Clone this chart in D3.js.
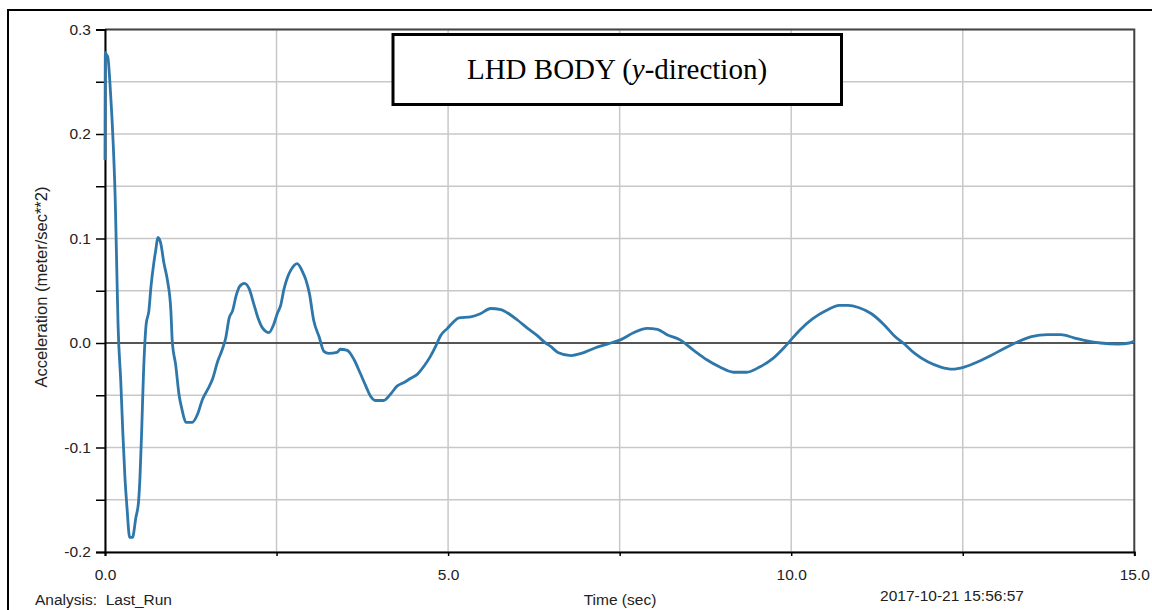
<!DOCTYPE html>
<html><head><meta charset="utf-8">
<script src="https://cdn.jsdelivr.net/npm/d3@7"></script>
<style>body{margin:0;background:#fff;}svg{display:block;}</style>
</head><body><div id="chart"></div>
<script>
// Time (sec)
const timeValues = [0,0.005,0.02,0.04,0.08,0.12,0.15,0.17,0.19,0.23,0.26,0.29,0.32,0.36,0.40,0.45,0.49,0.51,0.535,0.56,0.60,0.64,0.67,0.71,0.74,0.77,0.81,0.86,0.91,0.96,0.98,1.03,1.08,1.12,1.18,1.27,1.35,1.42,1.50,1.57,1.64,1.71,1.76,1.81,1.86,1.91,1.96,2.03,2.10,2.17,2.23,2.30,2.39,2.46,2.51,2.56,2.61,2.66,2.71,2.80,2.88,2.93,2.98,3.04,3.12,3.19,3.26,3.38,3.43,3.53,3.63,3.72,3.80,3.87,3.94,4.06,4.16,4.26,4.35,4.45,4.55,4.65,4.74,4.82,4.89,4.99,5.06,5.16,5.33,5.47,5.62,5.77,5.86,6.01,6.16,6.30,6.42,6.49,6.60,6.79,6.94,7.13,7.32,7.51,7.71,7.90,8.05,8.19,8.38,8.58,8.77,8.96,9.16,9.35,9.54,9.73,9.93,10.12,10.31,10.51,10.70,10.83,10.98,11.17,11.36,11.50,11.65,11.80,11.99,12.18,12.35,12.52,12.72,12.91,13.11,13.30,13.50,13.74,13.93,14.12,14.31,14.51,14.76,14.93,15.0];
// Acceleration (meter/sec**2)
const accelValues = [0.175,0.278,0.276,0.274,0.240,0.190,0.135,0.076,0.018,-0.037,-0.086,-0.128,-0.157,-0.186,-0.186,-0.167,-0.151,-0.128,-0.083,-0.031,0.018,0.031,0.054,0.076,0.089,0.101,0.096,0.076,0.060,0.031,0.002,-0.021,-0.050,-0.063,-0.076,-0.076,-0.068,-0.054,-0.044,-0.034,-0.018,-0.006,0.005,0.024,0.031,0.045,0.054,0.057,0.052,0.037,0.024,0.014,0.010,0.018,0.028,0.036,0.052,0.063,0.070,0.076,0.068,0.060,0.047,0.022,0.006,-0.008,-0.010,-0.009,-0.006,-0.007,-0.016,-0.029,-0.041,-0.051,-0.055,-0.055,-0.049,-0.041,-0.038,-0.034,-0.030,-0.022,-0.013,-0.003,0.007,0.014,0.019,0.024,0.025,0.028,0.033,0.032,0.029,0.022,0.014,0.007,0.000,-0.003,-0.009,-0.012,-0.010,-0.005,-0.001,0.003,0.010,0.014,0.013,0.008,0.003,-0.007,-0.016,-0.023,-0.028,-0.028,-0.023,-0.015,-0.002,0.012,0.023,0.031,0.036,0.036,0.034,0.028,0.017,0.007,-0.001,-0.010,-0.018,-0.023,-0.025,-0.023,-0.018,-0.012,-0.005,0.001,0.006,0.008,0.008,0.005,0.002,0.000,-0.001,0.000,0.002];
const xTickLabels = [0, 5, 10, 15];
const xGridTicks = [0, 2.5, 5, 7.5, 10, 12.5, 15];
const yTickLabels = [-0.2, -0.1, 0.0, 0.1, 0.2, 0.3];
const yGridTicks = [-0.2,-0.15,-0.1,-0.05,0,0.05,0.1,0.15,0.2,0.25,0.3];

const W = 1152, H = 610;
const L = 105, R = 1134.3, T = 29.5, B = 552;
const ff = "Liberation Sans, Arial, sans-serif";
const fmt = d => d3.format(".1f")(d).replace("\u2212", "-");
const svg = d3.select("#chart").append("svg").attr("width", W).attr("height", H);
const x = d3.scaleLinear().domain([0, 15]).range([L, R]);
const y = d3.scaleLinear().domain([-0.2, 0.3]).range([B, T]);

// outer frame
svg.append("rect").attr("x", 8).attr("y", 10).attr("width", 1200).attr("height", 700)
  .attr("fill", "none").attr("stroke", "#000").attr("stroke-width", 2);

// grid
const grid = svg.append("g");
grid.selectAll(".hg").data(yGridTicks).join("line")
  .attr("x1", L).attr("x2", R).attr("y1", d => y(d)).attr("y2", d => y(d))
  .attr("stroke", "#c8c8c8").attr("stroke-width", 1.5);
grid.selectAll(".vg").data(xGridTicks).join("line")
  .attr("y1", T).attr("y2", B).attr("x1", d => x(d)).attr("x2", d => x(d))
  .attr("stroke", "#c8c8c8").attr("stroke-width", 1.5);
// zero line
svg.append("line").attr("x1", L).attr("x2", R).attr("y1", y(0)).attr("y2", y(0))
  .attr("stroke", "#2a2a2a").attr("stroke-width", 1.5);

// top/right border
svg.append("path").attr("d", `M${L},${T}H${R}V${B}`).attr("fill", "none")
  .attr("stroke", "#444").attr("stroke-width", 2);

// axes
const yAxis = d3.axisLeft(y).tickValues(yGridTicks).tickSize(9)
  .tickFormat(d => yTickLabels.some(v => Math.abs(v - d) < 1e-9) ? fmt(d) : "");
const gy = svg.append("g").attr("transform", `translate(${L},0)`).call(yAxis);
gy.select(".domain").attr("stroke", "#000").attr("stroke-width", 2);
gy.selectAll(".tick line").attr("stroke", "#000").attr("stroke-width", 1.5);
gy.selectAll(".tick text").attr("font-family", ff)
  .attr("font-size", 15.5).attr("fill", "#222").attr("x", -14);

const xAxis = d3.axisBottom(x).tickValues(xGridTicks).tickSize(4)
  .tickFormat(d => xTickLabels.includes(d) ? fmt(d) : "");
const gx = svg.append("g").attr("transform", `translate(0,${B})`).call(xAxis);
gx.select(".domain").attr("stroke", "#000").attr("stroke-width", 2);
gx.selectAll(".tick line").attr("stroke", "#000").attr("stroke-width", 1.5);
gx.selectAll(".tick text").attr("font-family", ff)
  .attr("font-size", 15.5).attr("fill", "#222").attr("y", 17);

// data line
const data = timeValues.map((t, i) => [t, accelValues[i]]);
svg.append("path").datum(data)
  .attr("d", d3.line().x(d => x(d[0])).y(d => y(d[1])).curve(d3.curveMonotoneX))
  .attr("fill", "none").attr("stroke", "#2e77aa").attr("stroke-width", 2.8)
  .attr("stroke-linejoin", "round");

// y label
svg.append("text").attr("transform", "translate(47,287) rotate(-90)")
  .attr("text-anchor", "middle").attr("font-family", ff)
  .attr("font-size", 16.5).attr("fill", "#222").text("Acceleration (meter/sec**2)");

// bottom texts
svg.append("text").attr("x", 35).attr("y", 605).attr("font-family", ff).attr("font-size", 15.5)
  .attr("fill", "#222").style("white-space", "pre").text("Analysis:  Last_Run");
svg.append("text").attr("x", 620).attr("y", 605).attr("text-anchor", "middle").attr("font-family", ff)
  .attr("font-size", 15.5).attr("fill", "#222").text("Time (sec)");
svg.append("text").attr("x", 952).attr("y", 601).attr("text-anchor", "middle").attr("font-family", ff)
  .attr("font-size", 15.5).attr("fill", "#222").text("2017-10-21 15:56:57");

// title box
svg.append("rect").attr("x", 393).attr("y", 34.5).attr("width", 448.5).attr("height", 70)
  .attr("fill", "#fff").attr("stroke", "#000").attr("stroke-width", 3);
const tt = svg.append("text").attr("x", 617).attr("y", 79).attr("text-anchor", "middle")
  .attr("font-family", "Liberation Serif, Times New Roman, serif").attr("font-size", 29).attr("fill", "#000");
tt.append("tspan").text("LHD BODY (");
tt.append("tspan").attr("font-style", "italic").text("y");
tt.append("tspan").text("-direction)");
</script></body></html>
